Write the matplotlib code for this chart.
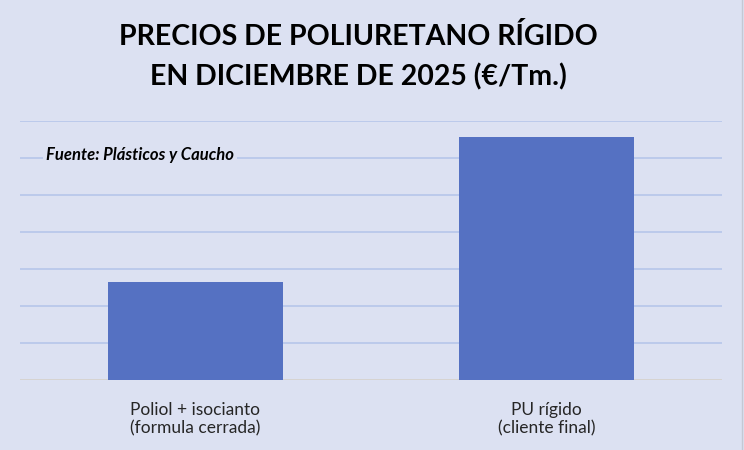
import numpy as np
import matplotlib.pyplot as plt

categories = ['Poliol + isocianto\n(formula cerrada)', 'PU rígido\n(cliente final)']
precios = [2640, 6580]

bg = '#dce1f2'
bar_color = '#5571c2'
grid_color = '#b6c6ea'

plt.rcParams['font.family'] = ['Lato', 'DejaVu Sans']

fig = plt.figure(figsize=(7.44, 4.5), dpi=100, facecolor=bg)
ax = fig.add_axes([20/744, 1-380/450, 702/744, 259/450])
ax.set_facecolor(bg)

x = np.arange(len(categories))
ax.bar(x, precios, width=0.5, color=bar_color, zorder=3)

ax.set_xlim(-0.5, 1.5)
ax.set_ylim(0, 7000)
ax.set_yticks(np.arange(0, 7001, 1000))
ax.yaxis.grid(True, color=grid_color, linewidth=1.2, zorder=0)
ax.axhline(0, color='#dcd6cc', linewidth=1.2, zorder=2)
ax.tick_params(axis='y', left=False, labelleft=False)
ax.set_xticks(x)
ax.set_xticklabels(categories, fontsize=12.5, color='#262626', linespacing=1.25)
ax.tick_params(axis='x', bottom=False, pad=12)
for s in ax.spines.values():
    s.set_visible(False)

fig.text(358/744, 1-57/450, 'PRECIOS DE POLIURETANO RÍGIDO\nEN DICIEMBRE DE 2025 (€/Tm.)',
         ha='center', va='center', fontsize=20.5, fontweight='bold', linespacing=1.6)

ax.text(46/744, 1-155/450, 'Fuente: Plásticos y Caucho', transform=fig.transFigure,
        ha='left', va='center', fontsize=12, fontweight='bold', fontstyle='italic',
        bbox=dict(facecolor=bg, edgecolor='none', pad=2), zorder=4)

fig.add_artist(plt.Line2D([742/744, 742/744], [0, 1], color='#c4c8d4', linewidth=1))

plt.savefig('out.png', dpi=100, facecolor=bg)
